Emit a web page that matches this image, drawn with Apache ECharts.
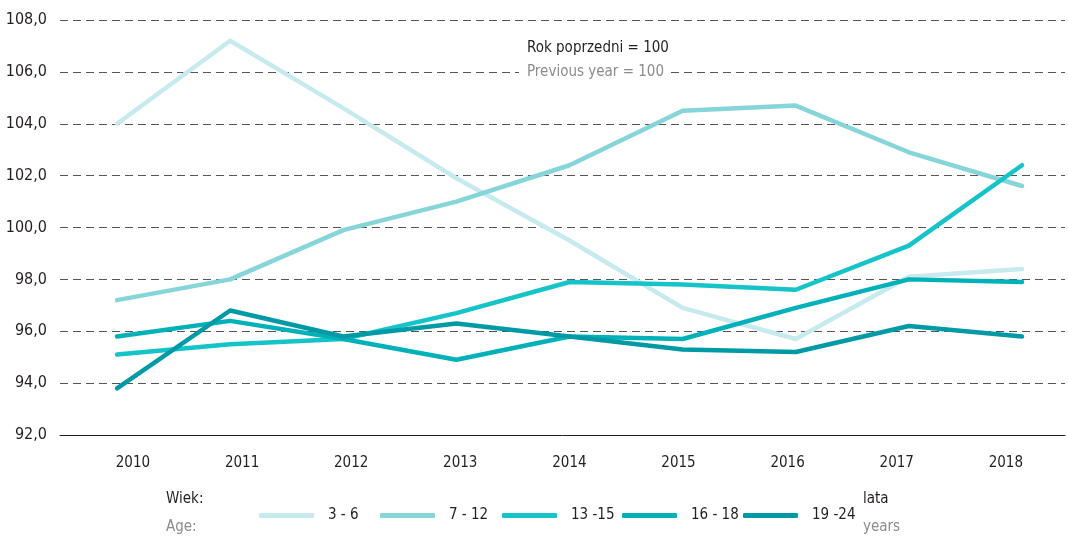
<!DOCTYPE html>
<html>
<head>
<meta charset="utf-8">
<script src="https://cdn.jsdelivr.net/npm/echarts@6/dist/echarts.min.js"></script>
<style>
  html, body { margin: 0; padding: 0; background: #fff; }
  #chart { width: 1068px; height: 536px; }
</style>
</head>
<body>
<div id="chart"></div>
<script>
var years = [2010, 2011, 2012, 2013, 2014, 2015, 2016, 2017, 2018];
var ageNames = ['3 - 6', '7 - 12', '13 -15', '16 - 18', '19 -24'];
var age3_6   = [104.0, 107.2, 104.6, 101.9, 99.5, 96.9, 95.7, 98.1, 98.4];
var age7_12  = [97.2, 98.0, 99.9, 101.0, 102.4, 104.5, 104.7, 102.9, 101.6];
var age13_15 = [95.1, 95.5, 95.7, 96.7, 97.9, 97.8, 97.6, 99.3, 102.4];
var age16_18 = [95.8, 96.4, 95.7, 94.9, 95.8, 95.7, 96.9, 98.0, 97.9];
var age19_24 = [93.8, 96.8, 95.8, 96.3, 95.8, 95.3, 95.2, 96.2, 95.8];
var colors = ['#c6eaee', '#86d5d9', '#14c4c9', '#00b1ba', '#009aa6'];

var font = '"Liberation Sans Narrow", "DejaVu Sans Condensed", sans-serif';
var allValues = [age3_6, age7_12, age13_15, age16_18, age19_24];

var chart = echarts.init(document.getElementById('chart'));

var series = [];
for (var s = 0; s < allValues.length; s++) {
    var pts = [];
    for (var i = 0; i < years.length; i++) {
        pts.push([years[i], allValues[s][i]]);
    }
    series.push({
        name: ageNames[s],
        type: 'line',
        xAxisIndex: 0,
        yAxisIndex: 0,
        data: pts,
        symbol: 'none',
        color: colors[s],
        lineStyle: { width: 4.5, color: colors[s], cap: 'round', join: 'round' }
    });
}

// one legend per entry so each sits where it does in the original
var legendLeft = [254, 375, 497, 617, 738];
var legends = [];
for (var k = 0; k < ageNames.length; k++) {
    legends.push({
        data: [{ name: ageNames[k], icon: 'roundRect' }],
        left: legendLeft[k],
        top: 503,
        itemWidth: 55,
        itemHeight: 5,
        textStyle: { fontFamily: font, fontSize: 15, color: '#231f20', padding: [0, 0, 0, 9] }
    });
}

var option = {
    animation: false,
    backgroundColor: '#fff',
    grid: [
        { left: 60, right: 3, top: 20, bottom: 101 },
        { left: 78.4, right: 7.6, top: 20, bottom: 101 }
    ],
    xAxis: [{
        type: 'value',
        gridIndex: 0,
        min: 2009.496,
        max: 2018.38,
        axisLine: { show: true, lineStyle: { color: '#231f20', width: 1 } },
        axisTick: { show: false },
        axisLabel: { show: false },
        splitLine: { show: false }
    }, {
        type: 'category',
        gridIndex: 1,
        data: years,
        boundaryGap: true,
        axisLine: { show: false },
        axisTick: { show: false },
        axisLabel: { margin: 21, fontFamily: font, fontSize: 15, color: '#231f20' },
        splitLine: { show: false }
    }],
    yAxis: [{
        type: 'value',
        gridIndex: 0,
        min: 92,
        max: 108,
        interval: 2,
        axisLine: { show: false },
        axisTick: { show: false },
        axisLabel: {
            margin: 13,
            fontFamily: font, fontSize: 16, color: '#231f20',
            formatter: function (v) { return v.toFixed(1).replace('.', ','); }
        },
        splitLine: { show: true, lineStyle: { color: '#555', width: 1, type: [8, 5] } }
    }, {
        type: 'value',
        gridIndex: 1,
        show: false
    }],
    legend: legends,
    graphic: [
        {
            type: 'rect', left: 519, top: 63, z: 1,
            shape: { width: 150, height: 20 },
            style: { fill: '#fff' }
        },
        {
            type: 'text', left: 527, top: 41, z: 2,
            style: { text: 'Rok poprzedni = 100', font: '15px ' + font, fill: '#231f20' }
        },
        {
            type: 'text', left: 527, top: 65, z: 2,
            style: { text: 'Previous year = 100', font: '15px ' + font, fill: '#8c8c8c' }
        },
        {
            type: 'text', left: 166, top: 492,
            style: { text: 'Wiek:', font: '15px ' + font, fill: '#231f20' }
        },
        {
            type: 'text', left: 166, top: 520,
            style: { text: 'Age:', font: '15px ' + font, fill: '#8c8c8c' }
        },
        {
            type: 'text', left: 863, top: 492,
            style: { text: 'lata', font: '15px ' + font, fill: '#231f20' }
        },
        {
            type: 'text', left: 863, top: 520,
            style: { text: 'years', font: '15px ' + font, fill: '#8c8c8c' }
        }
    ],
    series: series
};

chart.setOption(option);
</script>
</body>
</html>
